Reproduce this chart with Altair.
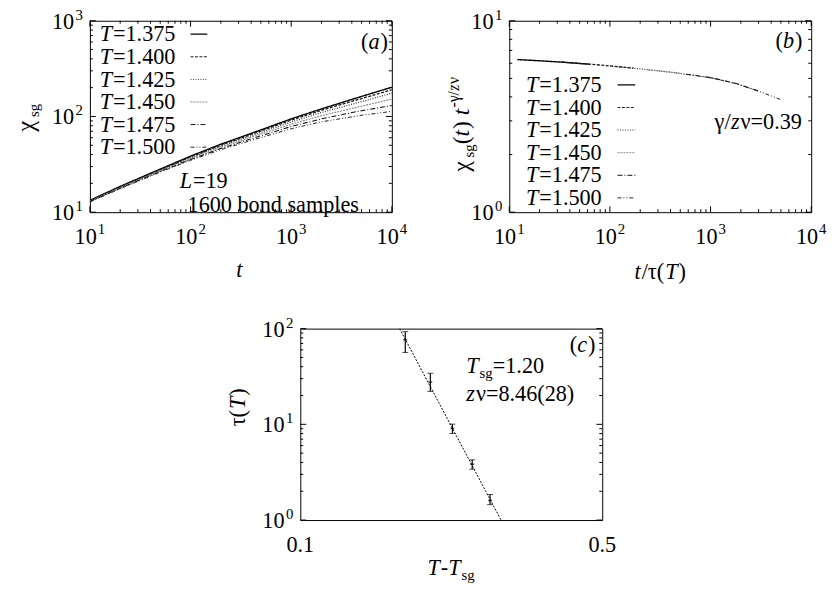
import altair as alt
import pandas as pd

FONT = "Liberation Serif"
FS = 22.5
SS = 15

# ---------------- data ----------------
T_labels = ["1.375", "1.400", "1.425", "1.450", "1.475", "1.500"]
t_vals = [10, 20, 50, 100, 200, 500, 1000, 2000, 5000, 10000]
chi_1375 = [13.3, 18.6, 28.2, 38.5, 51.3, 72.4, 94.4, 120, 162, 202]
chi_1400 = [13.2, 18.4, 27.8, 37.8, 50.2, 70.5, 91.5, 116, 154, 190]
chi_1425 = [13.1, 18.2, 27.4, 37.1, 49.0, 68.2, 87.5, 110, 143, 175]
chi_1450 = [13.0, 18.0, 27.0, 36.3, 47.7, 65.6, 83.0, 102, 128, 152]
chi_1475 = [12.9, 17.8, 26.6, 35.5, 46.3, 62.8, 78.5, 94.5, 115, 130]
chi_1500 = [12.8, 17.6, 26.2, 34.8, 45.0, 60.3, 74.4, 88.0, 103, 113]

bx_1375 = [12, 20, 33, 62]
by_1375 = [6.27, 6.18, 6.08, 5.93]
bx_1400 = [33, 62, 100, 172]
by_1400 = [6.09, 5.94, 5.81, 5.66]
bx_1425 = [100, 172, 300, 520]
by_1425 = [5.80, 5.65, 5.48, 5.30]
bx_1450 = [238, 400, 700, 1240]
by_1450 = [5.54, 5.39, 5.18, 4.93]
bx_1475 = [570, 1000, 1800, 2960]
by_1475 = [5.26, 5.05, 4.70, 4.30]
bx_1500 = [960, 1800, 3000, 5000]
by_1500 = [5.07, 4.69, 4.29, 3.87]

dT = [0.175, 0.200, 0.225, 0.250, 0.275]
tau = [76.4, 27.6, 9.05, 3.83, 1.60]
tau_lo = [56.4, 22.1, 8.03, 3.40, 1.45]
tau_hi = [93.0, 34.2, 10.05, 4.26, 1.85]
fit_x = [0.1698, 0.2915]
fit_y = [100, 1]

# ---------------- styles ----------------
DASHES = [[1, 0], [3, 1.5], [1, 1.5], [2, 1], [5, 2, 1, 2], [4, 2, 1, 2, 1, 2]]
COLORS = ["#000000", "#1a1a1a", "#333333", "#8a8a8a", "#111111", "#222222"]
WIDTHS = [1.4, 1, 1, 1, 1, 1]

W, H = 306, 194
ONE = pd.DataFrame({"k": [0]})

REG = {"0": .5, "1": .5, "2": .5, "3": .5, "4": .5, "5": .5, "6": .5, "7": .5, "8": .5, "9": .5,
       ".": .25, "=": .564, "(": .333, ")": .333, "/": .278, "-": .333, " ": .25,
       "s": .389, "g": .5, "b": .5, "o": .5, "n": .5, "d": .5, "a": .444, "m": .778,
       "p": .5, "l": .278, "e": .444, "χ": .6, "τ": .45, "γ": .46, "ν": .47}
ITA = {"T": .556, "t": .278, "z": .389, "L": .556, "a": .5, "b": .5, "c": .444}


def tw(s, italic, size):
    tab = ITA if italic else REG
    return sum(tab.get(c, .5) for c in s) * size + (0.04 * size if italic else 0)


def rich(parts, x, y, rot=False, anchor="start"):
    total = sum(tw(p[0], p[1], p[2]) for p in parts)
    acc = {"start": 0, "end": -total, "middle": -total / 2}[anchor]
    out = []
    for text, it, size, shift in parts:
        if rot:
            px, py = x - shift, y - acc
        else:
            px, py = x + acc, y - shift
        kw = dict(text=text, font=FONT, fontSize=size, align="left",
                  baseline="alphabetic", angle=270 if rot else 0, color="black")
        if it:
            kw["fontStyle"] = "italic"
        out.append(alt.Chart(ONE).mark_text(**kw).encode(x=alt.value(px), y=alt.value(py)))
        acc += tw(text, it, size)
    return out


def frame_ticks(xs, ys, xmaj, xmin, ymaj, ymin):
    out = []
    for vals, ln in ((xmaj, 6), (xmin, 3)):
        if not vals:
            continue
        base = alt.Chart(pd.DataFrame({"v": vals}))
        X = alt.X("v:Q", scale=xs, axis=None)
        out.append(base.mark_rule(color="black", strokeWidth=1).encode(
            x=X, y=alt.value(H), y2=alt.value(H - ln)))
        out.append(base.mark_rule(color="black", strokeWidth=1).encode(
            x=X, y=alt.value(0), y2=alt.value(ln)))
    for vals, ln in ((ymaj, 6), (ymin, 3)):
        if not vals:
            continue
        base = alt.Chart(pd.DataFrame({"v": vals}))
        Y = alt.Y("v:Q", scale=ys, axis=None)
        out.append(base.mark_rule(color="black", strokeWidth=1).encode(
            y=Y, x=alt.value(0), x2=alt.value(ln)))
        out.append(base.mark_rule(color="black", strokeWidth=1).encode(
            y=Y, x=alt.value(W), x2=alt.value(W - ln)))
    return out


def pow_labels_x(xs, vals, exps):
    df = pd.DataFrame({"v": vals, "e": exps})
    X = alt.X("v:Q", scale=xs, axis=None)
    main = alt.Chart(df).mark_text(text="10", font=FONT, fontSize=FS, align="right",
                                   baseline="alphabetic", dx=7, color="black").encode(
        x=X, y=alt.value(H + 32))
    sup = alt.Chart(df).mark_text(font=FONT, fontSize=SS, align="left",
                                  baseline="alphabetic", dx=8, color="black").encode(
        x=X, y=alt.value(H + 22), text="e:N")
    return [main, sup]


def pow_labels_y(ys, vals, exps):
    df = pd.DataFrame({"v": vals, "e": exps})
    Y = alt.Y("v:Q", scale=ys, axis=None)
    main = alt.Chart(df).mark_text(text="10", font=FONT, fontSize=FS, align="right",
                                   baseline="alphabetic", dy=8, color="black").encode(
        x=alt.value(-16), y=Y)
    sup = alt.Chart(df).mark_text(font=FONT, fontSize=SS, align="left",
                                  baseline="alphabetic", dy=-1, color="black").encode(
        x=alt.value(-14.5), y=Y, text="e:N")
    return [main, sup]


def legend(x_text, y0, dy, x1, x2):
    out = []
    for i, lab in enumerate(T_labels):
        yc = y0 + i * dy
        out += rich([("T", True, FS, 0), ("=" + lab, False, FS, 0)], x_text, yc + 7.3)
        out.append(alt.Chart(ONE).mark_rule(
            color=COLORS[i], strokeDash=DASHES[i], strokeWidth=WIDTHS[i]).encode(
            x=alt.value(x1), x2=alt.value(x2), y=alt.value(yc)))
    return out


dash_scale = alt.Scale(domain=T_labels, range=DASHES)
col_scale = alt.Scale(domain=T_labels, range=COLORS)
wid_scale = alt.Scale(domain=T_labels, range=WIDTHS)

# ---------------- panel (a) ----------------
chis = [chi_1375, chi_1400, chi_1425, chi_1450, chi_1475, chi_1500]
dfa = pd.DataFrame([
    {"t": t, "chi": c, "T": lab}
    for lab, series in zip(T_labels, chis) for t, c in zip(t_vals, series)
])
xa = alt.Scale(type="log", domain=[10, 10000], nice=False)
ya = alt.Scale(type="log", domain=[10, 1000], nice=False)

lines_a = alt.Chart(dfa).mark_line(clip=True).encode(
    x=alt.X("t:Q", scale=xa, axis=None),
    y=alt.Y("chi:Q", scale=ya, axis=None),
    detail="T:N",
    strokeDash=alt.StrokeDash("T:N", scale=dash_scale, legend=None),
    color=alt.Color("T:N", scale=col_scale, legend=None),
    strokeWidth=alt.StrokeWidth("T:N", scale=wid_scale, legend=None),
)

dec = [1, 2, 3, 4, 5, 6, 7, 8, 9]
layers_a = [lines_a]
layers_a += frame_ticks(xa, ya, [10, 100, 1000, 10000],
                        [m * 10 ** k for k in (1, 2, 3) for m in dec[1:]],
                        [10, 100, 1000], [m * 10 ** k for k in (1, 2) for m in dec[1:]])
layers_a += pow_labels_x(xa, [10, 100, 1000, 10000], ["1", "2", "3", "4"])
layers_a += pow_labels_y(ya, [10, 100, 1000], ["1", "2", "3"])
layers_a += legend(10, 13.6, 22.9, 102, 119)
layers_a += rich([("(", False, FS, 0), ("a", True, FS, 0), (")", False, FS, 0)], 302, 28.6, anchor="end")
layers_a += rich([("L", True, FS, 0), ("=19", False, FS, 0)], 91, 169.5)
layers_a += rich([("1600 bond samples", False, FS, 0)], 99, 193.5)
layers_a += rich([("t", True, FS, 0)], 152, 260, anchor="middle")
layers_a += rich([("χ", False, 25, 0), ("sg", False, SS, -5)], -57, 112.5, rot=True)
panel_a = alt.layer(*layers_a).properties(width=W, height=H)

# ---------------- panel (b) ----------------
bxs = [bx_1375, bx_1400, bx_1425, bx_1450, bx_1475, bx_1500]
bys = [by_1375, by_1400, by_1425, by_1450, by_1475, by_1500]
dfb = pd.DataFrame([
    {"x": x, "y": y, "T": lab}
    for lab, xx, yy in zip(T_labels, bxs, bys) for x, y in zip(xx, yy)
])
xb = alt.Scale(type="log", domain=[10, 10000], nice=False)
yb = alt.Scale(type="log", domain=[1, 10], nice=False)
lines_b = alt.Chart(dfb).mark_line(clip=True).encode(
    x=alt.X("x:Q", scale=xb, axis=None),
    y=alt.Y("y:Q", scale=yb, axis=None),
    detail="T:N",
    strokeDash=alt.StrokeDash("T:N", scale=dash_scale, legend=None),
    color=alt.Color("T:N", scale=col_scale, legend=None),
    strokeWidth=alt.StrokeWidth("T:N", scale=wid_scale, legend=None),
)
layers_b = [lines_b]
layers_b += frame_ticks(xb, yb, [10, 100, 1000, 10000],
                        [m * 10 ** k for k in (1, 2, 3) for m in dec[1:]],
                        [1, 10], [m for m in dec[1:]])
layers_b += pow_labels_x(xb, [10, 100, 1000, 10000], ["1", "2", "3", "4"])
layers_b += pow_labels_y(yb, [1, 10], ["0", "1"])
layers_b += legend(17, 65, 22.9, 109.7, 127.7)
layers_b += rich([("(", False, FS, 0), ("b", True, FS, 0), (")", False, FS, 0)], 297, 27.3, anchor="end")
layers_b += rich([("γ/", False, FS, 0), ("z", True, FS, 0), ("ν=0.39", False, FS, 0)], 297, 109.3, anchor="end")
layers_b += rich([("t", True, FS, 0), ("/τ(", False, FS, 0), ("T", True, FS, 0), (")", False, FS, 0)], 127, 262)
layers_b += rich([("χ", False, 24, 0), ("sg", False, SS, -5), ("(", False, 24, 0), ("t", True, 24, 0),
                  (")", False, 24, 0), (" ", False, 24, 0), ("t", True, 24, 0),
                  ("-γ/", False, 16, 10), ("z", True, 16, 10), ("ν", False, 16, 10)], -41, 153, rot=True)
panel_b = alt.layer(*layers_b).properties(width=W, height=H)

# ---------------- panel (c) ----------------
dfc = pd.DataFrame({"x": dT, "tau": tau, "lo": tau_lo, "hi": tau_hi})
dff = pd.DataFrame({"x": fit_x, "y": fit_y})
xc = alt.Scale(type="log", domain=[0.1, 0.5], nice=False)
yc = alt.Scale(type="log", domain=[1, 100], nice=False)
Xc = alt.X("x:Q", scale=xc, axis=None)
fit = alt.Chart(dff).mark_line(color="black", strokeDash=[2, 1.5], strokeWidth=1, clip=True).encode(
    x=Xc, y=alt.Y("y:Q", scale=yc, axis=None))
bars = alt.Chart(dfc).mark_rule(color="black", strokeWidth=1.2).encode(
    x=Xc, y=alt.Y("lo:Q", scale=yc, axis=None), y2="hi:Q")
cap_lo = alt.Chart(dfc).mark_tick(color="black", orient="horizontal", size=6, thickness=1).encode(
    x=Xc, y=alt.Y("lo:Q", scale=yc, axis=None))
cap_hi = alt.Chart(dfc).mark_tick(color="black", orient="horizontal", size=6, thickness=1).encode(
    x=Xc, y=alt.Y("hi:Q", scale=yc, axis=None))
ctr = alt.Chart(dfc).mark_tick(color="black", orient="horizontal", size=4, thickness=1.5).encode(
    x=Xc, y=alt.Y("tau:Q", scale=yc, axis=None))
layers_c = [fit, bars, cap_lo, cap_hi, ctr]
layers_c += frame_ticks(xc, yc, [], [], [1, 10, 100],
                        [m * 10 ** k for k in (0, 1) for m in dec[1:]])
xl = pd.DataFrame({"v": [0.1, 0.5], "s": ["0.1", "0.5"]})
layers_c.append(alt.Chart(xl).mark_text(font=FONT, fontSize=FS, align="center",
                                        baseline="alphabetic", color="black").encode(
    x=alt.X("v:Q", scale=xc, axis=None), y=alt.value(H + 32), text="s:N"))
layers_c += pow_labels_y(yc, [1, 10, 100], ["0", "1", "2"])
layers_c += rich([("(", False, FS, 0), ("c", True, FS, 0), (")", False, FS, 0)], 299, 23.8, anchor="end")
layers_c += rich([("T", True, FS, 0), ("sg", False, SS, -5), ("=1.20", False, FS, 0)], 168.3, 44.6)
layers_c += rich([("z", True, FS, 0), ("ν=8.46(28)", False, FS, 0)], 168.3, 73.8)
layers_c += rich([("T", True, FS, 0), ("-", False, FS, 0), ("T", True, FS, 0), ("sg", False, SS, -5)], 129, 250)
layers_c += rich([("τ(", False, FS, 0), ("T", True, FS, 0), (")", False, FS, 0)], -55.7, 99, rot=True)
panel_c = alt.layer(*layers_c).properties(width=W, height=H)

top = alt.hconcat(panel_a, panel_b, spacing=119, bounds="flush")
chart = alt.vconcat(top, panel_c, spacing=31, center=True).properties(
    padding={"left": 5, "top": -5, "right": 0, "bottom": 5}
).configure_view(stroke="black", strokeWidth=1)

chart.save("out.html", embed_options={"renderer": "svg", "actions": False})
